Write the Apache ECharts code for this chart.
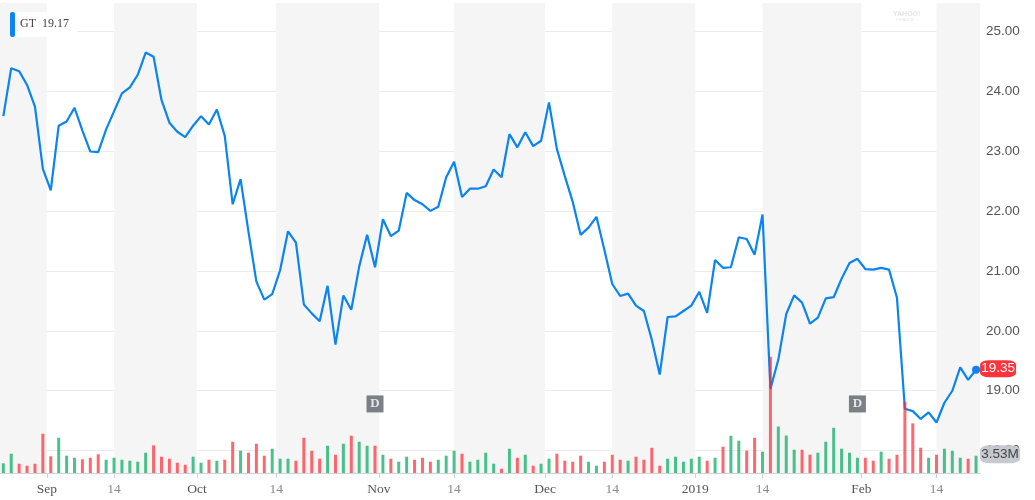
<!DOCTYPE html>
<html>
<head>
<meta charset="utf-8">
<script src="https://cdn.jsdelivr.net/npm/echarts@6/dist/echarts.min.js"></script>
<style>
  html, body { margin: 0; padding: 0; background: #fff; }
  #chart { width: 1035px; height: 500px; }
</style>
</head>
<body>
<div id="chart"></div>
<script>
// GT daily closes, trading days from 2018-08-24 to 2019-02-22 (index = trading day)
const prices = [
  23.58, 24.38, 24.33, 24.10, 23.74, 22.70, 22.34, 23.42, 23.49, 23.72,
  23.34, 22.99, 22.98, 23.36, 23.66, 23.96, 24.06, 24.27, 24.64, 24.57,
  23.85, 23.47, 23.32, 23.23, 23.42, 23.58, 23.44, 23.69, 23.25, 22.11,
  22.53, 21.65, 20.82, 20.52, 20.61, 21.01, 21.66, 21.47, 20.44, 20.29,
  20.16, 20.75, 19.77, 20.59, 20.35, 21.07, 21.60, 21.06, 21.86, 21.58,
  21.67, 22.30, 22.18, 22.11, 22.00, 22.07, 22.56, 22.82, 22.23, 22.37,
  22.37, 22.41, 22.69, 22.56, 23.28, 23.06, 23.31, 23.08, 23.17, 23.81,
  23.03, 22.58, 22.15, 21.60, 21.72, 21.90, 21.35, 20.78, 20.58, 20.62,
  20.42, 20.33, 19.85, 19.27, 20.23, 20.24, 20.33, 20.42, 20.65, 20.30,
  21.18, 21.05, 21.06, 21.56, 21.53, 21.27, 21.94, 19.03, 19.52, 20.28,
  20.59, 20.47, 20.12, 20.22, 20.54, 20.56, 20.87, 21.13, 21.20, 21.03,
  21.02, 21.05, 21.02, 20.55, 18.70, 18.66, 18.53, 18.64, 18.47, 18.80,
  19.00, 19.39, 19.18, 19.35
];
// daily volume, millions of shares
const volumes = [
  1.98, 3.94, 1.90, 1.49, 1.90, 8.02, 3.41, 7.20, 3.53, 3.12,
  2.80, 3.12, 3.82, 2.71, 3.12, 2.71, 2.51, 2.31, 4.14, 5.65,
  3.33, 2.92, 2.10, 1.69, 3.33, 2.10, 2.71, 2.51, 2.71, 6.39,
  4.55, 4.14, 5.98, 3.53, 4.96, 2.92, 2.92, 2.51, 7.20, 4.55,
  2.92, 5.57, 3.73, 5.98, 7.61, 6.39, 5.57, 5.57, 3.73, 2.92,
  2.31, 3.33, 2.71, 3.12, 2.31, 2.71, 3.53, 4.55, 3.94, 2.31,
  2.71, 4.14, 1.90, 0.88, 4.96, 3.12, 3.73, 1.49, 1.90, 2.92,
  3.94, 2.51, 2.31, 3.53, 2.31, 1.49, 2.31, 3.73, 2.71, 2.51,
  3.33, 2.71, 5.16, 1.49, 2.92, 3.33, 2.31, 2.92, 3.33, 2.51,
  3.12, 5.37, 7.61, 6.59, 4.55, 7.20, 4.35, 23.73, 9.49, 7.65,
  4.76, 4.76, 3.73, 4.14, 6.39, 9.24, 4.96, 4.14, 3.12, 3.12,
  2.51, 4.35, 2.92, 3.73, 14.55, 10.14, 5.16, 3.12, 3.73, 4.96,
  4.55, 3.12, 2.92, 3.53
];
// x-axis ticks: trading-day positions (half values fall between two sessions)
const tickPositions = [5.5, 14, 24.5, 34.5, 47.5, 57, 68.5, 77, 87.5, 96, 108.5, 118];
const tickLabels = ['Sep', '14', 'Oct', '14', 'Nov', '14', 'Dec', '14', '2019', '14', 'Feb', '14'];
// dividend dates (trading-day index)
const dividendDays = [47, 108];
const ticker = 'GT';
const legendValue = '19.17';
const priceTicks = [18, 19, 20, 21, 22, 23, 24, 25];

const X_MIN = -0.42, X_MAX = 123.5;
const GREEN = 'rgba(0,168,92,0.7)';
const RED = 'rgba(255,40,48,0.7)';
const BLUE = '#0a84f0';

const n = prices.length;
const last = prices[n - 1];

// alternating shaded bands: from each "14" tick to the next month tick
const bands = [];
bands.push([{ xAxis: X_MIN }, { xAxis: tickPositions[0] }]);
for (let k = 1; k < tickPositions.length; k += 2) {
  const end = k + 1 < tickPositions.length ? tickPositions[k + 1] : X_MAX;
  bands.push([{ xAxis: tickPositions[k] }, { xAxis: end }]);
}

const volData = volumes.map((v, i) => {
  const up = i === 0 || prices[i] >= prices[i - 1];
  return { value: [i, v], itemStyle: { color: up ? GREEN : RED } };
});

const chart = echarts.init(document.getElementById('chart'), null, { renderer: 'canvas' });

const option = {
  animation: false,
  grid: [
    { left: 0, right: 55, top: 31, bottom: 49.3 },
    { left: 0, right: 55, top: 3, bottom: 27 }
  ],
  xAxis: [
    { type: 'value', gridIndex: 0, min: X_MIN, max: X_MAX, show: false },
    {
      type: 'value', gridIndex: 1, min: X_MIN, max: X_MAX,
      axisLine: { show: true, lineStyle: { color: '#cfd3d8', width: 1 } },
      axisTick: { show: true, customValues: tickPositions, length: 5, lineStyle: { color: '#cfd3d8' } },
      splitLine: { show: false },
      axisLabel: {
        customValues: tickPositions,
        margin: 9,
        fontFamily: '"Liberation Serif", serif',
        fontSize: 13.5,
        formatter: function (val) {
          let k = -1;
          for (let j = 0; j < tickPositions.length; j++) {
            if (Math.abs(tickPositions[j] - val) < 1e-6) { k = j; break; }
          }
          if (k < 0) return '';
          const t = tickLabels[k];
          return t === '14' ? '{d|' + t + '}' : '{m|' + t + '}';
        },
        rich: {
          m: { color: '#555', fontFamily: '"Liberation Serif", serif', fontSize: 13.5 },
          d: { color: '#8a8a8a', fontFamily: '"Liberation Serif", serif', fontSize: 13.5 }
        }
      }
    }
  ],
  yAxis: [
    {
      type: 'value', gridIndex: 0, position: 'right',
      min: priceTicks[0], max: priceTicks[priceTicks.length - 1], interval: 1,
      axisLine: { show: false },
      axisTick: { show: true, length: 4, lineStyle: { color: '#d6d9dd' } },
      splitLine: { show: true, lineStyle: { color: '#ececec', width: 1 } },
      axisLabel: {
        margin: 6, color: '#555', fontSize: 13.5,
        fontFamily: '"Liberation Sans", Arial, sans-serif',
        formatter: v => v.toFixed(2)
      }
    },
    {
      type: 'value', gridIndex: 1, position: 'right', min: 0, max: 96,
      axisLine: { show: true, lineStyle: { color: '#cfd3d8', width: 1 } },
      axisTick: { show: false }, axisLabel: { show: false }, splitLine: { show: false }
    }
  ],
  series: [
    {
      name: 'bands', type: 'line', xAxisIndex: 1, yAxisIndex: 1, data: [], z: 0,
      markArea: { silent: true, itemStyle: { color: '#f5f5f5' }, data: bands }
    },
    {
      name: 'price', type: 'line', xAxisIndex: 0, yAxisIndex: 0, z: 3,
      data: prices.map((v, i) => [i, v]),
      showSymbol: false, clip: false,
      lineStyle: { color: BLUE, width: 2.2 },
      markPoint: {
        silent: true, animation: false,
        data: [
          { coord: [n - 1, last], symbol: 'circle', symbolSize: 8, itemStyle: { color: BLUE }, label: { show: false } },
          {
            coord: [n - 1, last], symbol: 'roundRect', symbolSize: [36, 17], symbolOffset: [22, -1],
            itemStyle: { color: '#ff333a' },
            label: { show: true, position: 'inside', formatter: last.toFixed(2), color: '#fff', fontSize: 13.5, fontFamily: '"Liberation Sans", Arial, sans-serif' }
          }
        ]
      }
    },
    {
      name: 'volume', type: 'bar', xAxisIndex: 1, yAxisIndex: 1, z: 4,
      barWidth: 3, data: volData,
      markPoint: {
        silent: true, animation: false,
        data: [
          {
            coord: [n - 1, volumes[n - 1]], symbol: 'roundRect', symbolSize: [40, 18], symbolOffset: [24, -1.5],
            itemStyle: { color: 'rgba(196,199,205,0.95)' },
            label: { show: true, position: 'inside', formatter: volumes[n - 1].toFixed(2) + 'M', color: '#444', fontSize: 13.5, fontFamily: '"Liberation Sans", Arial, sans-serif' }
          }
        ]
      }
    },
    {
      name: 'dividends', type: 'scatter', xAxisIndex: 0, yAxisIndex: 0, z: 5,
      symbol: 'rect', symbolSize: 17,
      itemStyle: { color: '#5b6169' },
      data: dividendDays.map(d => [d, 18.78]),
      label: { show: true, position: 'inside', formatter: 'D', color: '#fff', fontWeight: 'bold', fontSize: 13, fontFamily: '"Liberation Serif", serif' }
    }
  ],
  graphic: [
    { type: 'rect', left: 10, top: 12, shape: { width: 67, height: 25 }, style: { fill: '#fff' }, z: 10 },
    { type: 'rect', left: 10, top: 12, shape: { width: 5, height: 25, r: 2 }, style: { fill: BLUE }, z: 11 },
    { type: 'text', left: 20, top: 18, style: { text: ticker + '  ' + legendValue, font: '12px "Liberation Serif", serif', fill: '#444' }, z: 11 },
    { type: 'text', left: 893, top: 11, style: { text: 'YAHOO!', font: 'bold 7px "Liberation Sans", sans-serif', fill: '#e6e6e6' }, z: 1 },
    { type: 'text', left: 896, top: 18, style: { text: 'FINANCE', font: '4px "Liberation Sans", sans-serif', fill: '#e6e6e6' }, z: 1 }
  ]
};

chart.setOption(option);
</script>
</body>
</html>
